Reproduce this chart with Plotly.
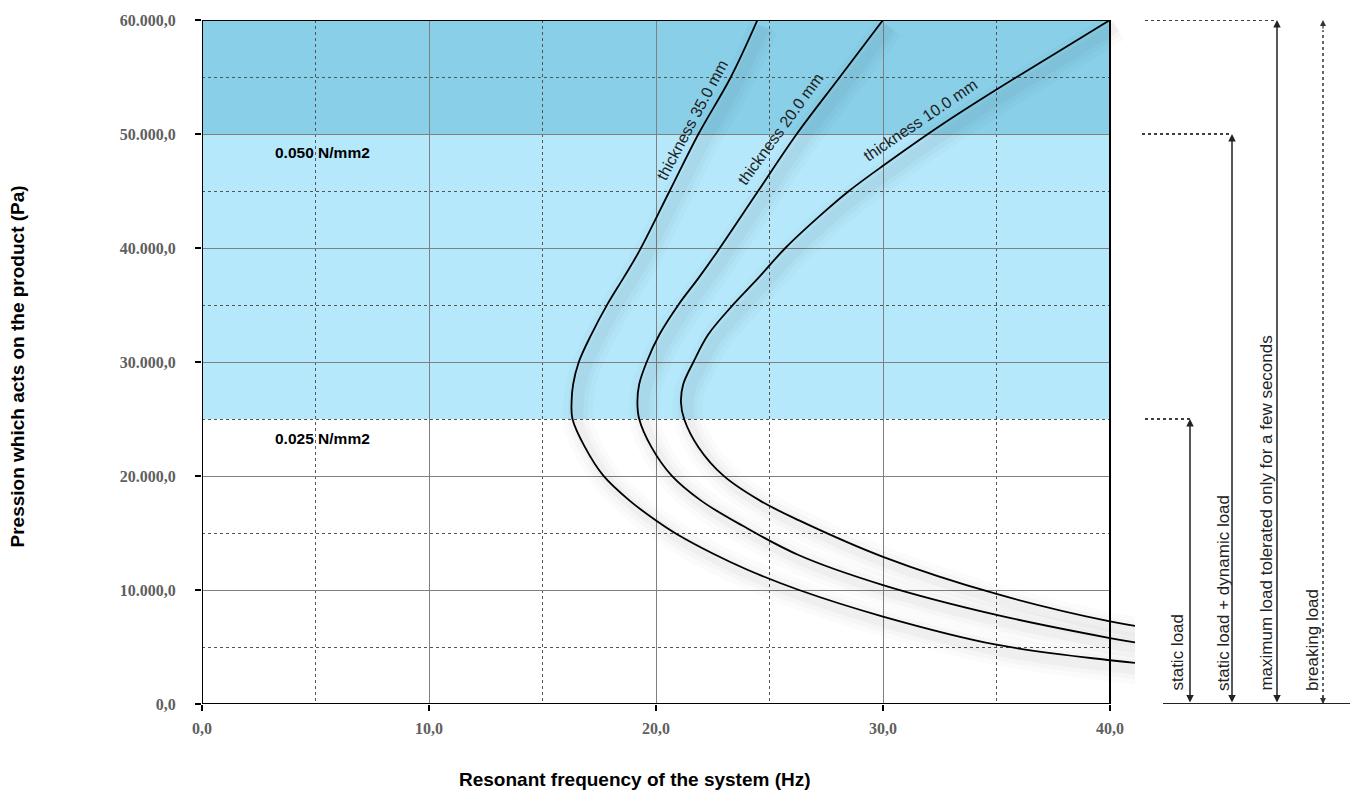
import plotly.graph_objects as go

# ---------------- data ----------------
x_35 = [24.47, 23.3, 21.87, 20.6, 19.25, 18.56, 17.85, 17.15, 16.6, 16.35, 16.28, 16.32, 16.87, 17.68,
        18.85, 20.0, 21.0, 22.5, 24.0, 26.3, 30.0, 35.0, 40.0, 41.1]
y_35 = [60000, 55000, 50000, 45000, 39680, 37355, 35030, 32410, 30000, 28050, 26450, 25000, 22530, 20030,
        17817, 16100, 14800, 13200, 11800, 10000, 7674, 5203, 3837, 3605]

x_20 = [30.0, 28.1, 26.2, 24.5, 22.7, 21.87, 20.99, 20.15, 19.59, 19.26, 19.18, 19.26, 19.8, 20.69,
        22.0, 23.8, 26.3, 30.0, 35.0, 40.0, 41.1]
y_20 = [60000, 55000, 50000, 45000, 39680, 37355, 35030, 32410, 30000, 28050, 26450, 25000, 22530, 20030,
        17817, 15650, 13052, 10436, 7820, 5785, 5407]

x_10 = [40.0, 37.5, 35.0, 32.5, 30.0, 28.5, 27.4, 25.7, 24.5, 23.4, 22.3, 21.65, 21.2, 21.1, 21.24,
        21.87, 22.97, 24.6, 26.3, 30.0, 35.0, 40.0, 41.1]
y_10 = [60000, 56950, 53900, 50700, 47210, 45000, 43140, 40000, 37355, 35030, 32410, 30000, 28050, 26450,
        25000, 22530, 20030, 17817, 16105, 12907, 9651, 7238, 6860]

curve_labels = ["thickness 35.0 mm", "thickness 20.0 mm", "thickness 10.0 mm"]

x_tickvals = [0, 10, 20, 30, 40]
x_ticktext = ["0,0", "10,0", "20,0", "30,0", "40,0"]
y_tickvals = [0, 10000, 20000, 30000, 40000, 50000, 60000]
y_ticktext = ["0,0", "10.000,0", "20.000,0", "30.000,0", "40.000,0", "50.000,0", "60.000,0"]

band_levels = [25000, 50000, 60000]          # band limits (Pa)
band_labels = ["0.025 N/mm2", "0.050 N/mm2"]
load_levels = [25000, 50000, 60000, 60000]   # static, static+dynamic, max, breaking
load_labels = ["static load", "static load + dynamic load",
               "maximum load tolerated only for a few seconds", "breaking load"]

# ---------------- geometry ----------------
W, H = 1359, 792
L, R, T, B = 202, 224, 17, 88
PW = W - L - R   # plot width in px
PH = H - T - B
X_MAX = 40.0 * PW / 908.0


def px2paper(px):
    return (px - L) / PW


def py2paper(py):
    return 1 - (py - T) / PH


fig = go.Figure()

curves = [(x_35, y_35), (x_20, y_20), (x_10, y_10)]

# soft shadows
for xs, ys in curves:
    for w, a in [(30, 0.016), (20, 0.02), (11, 0.028)]:
        fig.add_trace(go.Scatter(
            x=[v + 0.28 for v in xs], y=[v - 600 for v in ys], mode="lines",
            line=dict(color=f"rgba(0,0,0,{a})", width=w, shape="spline", smoothing=1),
            hoverinfo="skip", showlegend=False))

for (xs, ys), name in zip(curves, curve_labels):
    fig.add_trace(go.Scatter(
        x=xs, y=ys, mode="lines", name=name,
        line=dict(color="black", width=1.8, shape="spline", smoothing=1),
        showlegend=False))

shapes = []
# bands
shapes.append(dict(type="rect", xref="x", yref="y", x0=0, x1=40, y0=band_levels[0], y1=band_levels[1],
                   fillcolor="#B4E8FA", line=dict(width=0), layer="below"))
shapes.append(dict(type="rect", xref="x", yref="y", x0=0, x1=40, y0=band_levels[1], y1=band_levels[2],
                   fillcolor="#89CFE8", line=dict(width=0), layer="below"))
# hide gridlines beyond x=40
shapes.append(dict(type="rect", xref="x", yref="y", x0=40, x1=X_MAX + 1, y0=0, y1=60000,
                   fillcolor="white", line=dict(width=0), layer="between"))
# frame
shapes.append(dict(type="rect", xref="x", yref="y", x0=0, x1=40, y0=0, y1=60000,
                   line=dict(color="black", width=2), layer="above"))

# right-hand load diagram
arrow_px = [1190, 1232, 1277, 1323]
dot_start_px = [1145, 1142, 1145]
for i in range(3):
    shapes.append(dict(type="line", xref="paper", yref="y",
                       x0=px2paper(dot_start_px[i]), x1=px2paper(arrow_px[i]),
                       y0=load_levels[i], y1=load_levels[i],
                       line=dict(color="black", width=1.5, dash="dot")))
shapes.append(dict(type="line", xref="paper", yref="y",
                   x0=px2paper(arrow_px[3]), x1=px2paper(arrow_px[3]),
                   y0=0, y1=load_levels[3] - 900,
                   line=dict(color="#333", width=1.5, dash="dot")))
shapes.append(dict(type="line", xref="paper", yref="y",
                   x0=px2paper(1163), x1=px2paper(1350), y0=0, y1=0,
                   line=dict(color="#222", width=2)))

annotations = []
for i in range(3):
    annotations.append(dict(xref="paper", yref="y", x=px2paper(arrow_px[i]), y=load_levels[i],
                            axref="pixel", ayref="y", ax=0, ay=0, text="", showarrow=True,
                            arrowside="end+start", arrowhead=2, startarrowhead=2,
                            arrowsize=1, startarrowsize=1, arrowwidth=1.5, arrowcolor="#222",
                            standoff=0, startstandoff=0))
annotations.append(dict(xref="paper", yref="y", x=px2paper(arrow_px[3]), y=load_levels[3],
                        axref="pixel", ayref="pixel", ax=0, ay=10, text="", showarrow=True,
                        arrowhead=2, arrowsize=1, arrowwidth=1.2, arrowcolor="#333", standoff=0))
annotations.append(dict(xref="paper", yref="y", x=px2paper(arrow_px[3]), y=0,
                        axref="pixel", ayref="pixel", ax=0, ay=-10, text="", showarrow=True,
                        arrowhead=2, arrowsize=1, arrowwidth=1.2, arrowcolor="#333", standoff=0))

label_px = [1178, 1223, 1267, 1312]
for i, txt in enumerate(load_labels):
    annotations.append(dict(xref="paper", yref="paper", x=px2paper(label_px[i]), y=py2paper(693),
                            text=txt, showarrow=False, textangle=-90, xanchor="center", yanchor="bottom",
                            font=dict(family="Liberation Sans, Arial", size=17, color="#222")))

# band labels
for txt, py in zip(band_labels, [437, 150]):
    annotations.append(dict(xref="paper", yref="paper", x=px2paper(322), y=py2paper(py),
                            text=txt, showarrow=False, xanchor="center", yanchor="middle",
                            font=dict(family="Liberation Sans, Arial", size=15.5, color="black",
                                      weight="bold")))

# curve labels
for txt, (cx, cy), ang in zip(curve_labels, [(692, 118), (780, 127), (920, 118)], [-62, -54, -34]):
    annotations.append(dict(xref="paper", yref="paper", x=px2paper(cx), y=py2paper(cy),
                            text=txt, showarrow=False, textangle=ang, xanchor="center", yanchor="middle",
                            font=dict(family="Liberation Sans, Arial", size=16, color="#222")))

# axis titles
annotations.append(dict(xref="paper", yref="paper", x=px2paper(635), y=py2paper(780),
                        text="Resonant frequency of the system (Hz)", showarrow=False,
                        xanchor="center", yanchor="middle",
                        font=dict(family="Liberation Sans, Arial", size=19, color="black", weight="bold")))
annotations.append(dict(xref="paper", yref="paper", x=px2paper(17), y=py2paper(365),
                        text="Pression which acts on the product (Pa)", showarrow=False, textangle=-90,
                        xanchor="center", yanchor="middle",
                        font=dict(family="Liberation Sans, Arial", size=19, color="black", weight="bold")))

tickfont = dict(family="Liberation Serif, Times New Roman", size=16, color="#5f5f5f", weight="bold")

fig.update_layout(
    width=W, height=H,
    margin=dict(l=L, r=R, t=T, b=B, pad=0),
    paper_bgcolor="white", plot_bgcolor="white",
    shapes=shapes, annotations=annotations,
    xaxis=dict(range=[0, X_MAX], tickvals=x_tickvals, ticktext=x_ticktext, showline=False,
               zeroline=False, showgrid=True, gridcolor="#808080", gridwidth=1,
               ticks="outside", ticklen=6, tickwidth=1.5, tickcolor="black",
               tickfont=tickfont, ticklabelstandoff=4,
               minor=dict(tickvals=[5, 15, 25, 35], showgrid=True, gridcolor="#555",
                          griddash="dot", gridwidth=1, ticks="")),
    yaxis=dict(range=[0, 60000], tickvals=y_tickvals, ticktext=y_ticktext, showline=False,
               zeroline=False, showgrid=True, gridcolor="#808080", gridwidth=1,
               ticks="outside", ticklen=6, tickwidth=1.5, tickcolor="black",
               tickfont=tickfont, ticklabelstandoff=16,
               minor=dict(tickvals=[5000, 15000, 25000, 35000, 45000, 55000], showgrid=True,
                          gridcolor="#555", griddash="dot", gridwidth=1, ticks="")),
)

fig.write_html("out.html", config={"displayModeBar": False},
               post_script="document.body.style.margin='0';document.body.style.overflow='hidden';")
